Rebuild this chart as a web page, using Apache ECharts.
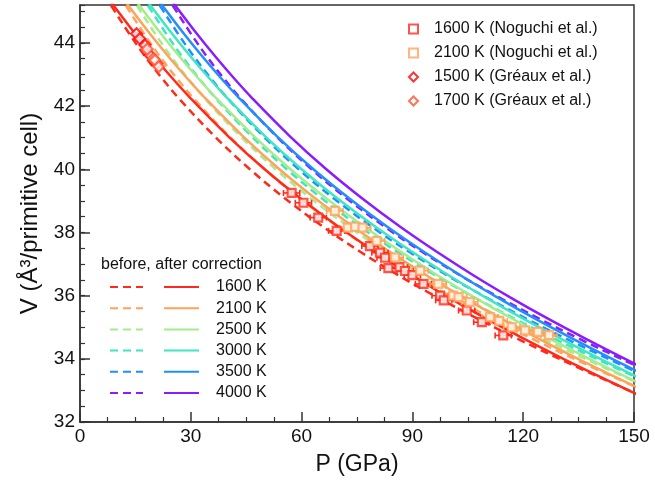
<!DOCTYPE html>
<html><head><meta charset="utf-8">
<script src="https://cdn.jsdelivr.net/npm/echarts@6/dist/echarts.min.js"></script>
<style>html,body{margin:0;padding:0;background:#fff}#c{width:655px;height:484px}</style>
</head><body><div id="c"></div>
<script>
// Shared volume grid (Å^3) for all EOS curves
const volGrid = [45.52, 45.2, 44.28, 43.56, 42.88, 42.24, 41.06, 40.0, 39.05, 38.18, 37.38, 36.63, 35.93, 35.27, 34.65, 33.76, 32.92, 32.65];
// Pressures (GPa) along each curve, "after correction" (solid)
const pAfter1600 = [7, 9, 15, 20, 25, 30, 40, 50, 60, 70, 80, 90, 100, 110, 120, 135, 150, 155];
const pAfter2100 = [11, 13, 19, 24, 29, 34, 44, 54, 64, 74, 84, 94, 104, 114, 124, 139, 154, 159];
const pAfter2500 = [14, 16, 22, 27, 32, 37, 47, 57, 67, 77, 87, 97, 107, 117, 127, 142, 157, 162];
const pAfter3000 = [17, 19, 25, 30, 35, 40, 50, 60, 70, 80, 90, 100, 110, 120, 130, 145, 160, 165];
const pAfter3500 = [20.2, 22.2, 28.2, 33.2, 38.2, 43.2, 53.2, 63.2, 73.2, 83.2, 93.2, 103.2, 113.2, 123.2, 133.2, 148.2, 163.2, 168.2];
const pAfter4000 = [23.7, 25.7, 31.7, 36.7, 41.7, 46.7, 56.7, 66.7, 76.7, 86.7, 96.7, 106.7, 116.7, 126.7, 136.7, 151.7, 166.7, 171.7];
// "before correction" (dashed)
const pBefore1600 = [6.4, 8.3, 13.4, 17.7, 22.2, 26.8, 36.3, 46.0, 55.8, 65.8, 76.0, 86.4, 97.0, 107.6, 118.2, 134.2, 150.2, 155.4];
const pBefore2100 = [10.4, 12.3, 17.4, 21.7, 26.2, 30.8, 40.3, 50.0, 59.8, 69.8, 80.0, 90.4, 101.0, 111.6, 122.2, 138.2, 154.2, 159.4];
const pBefore2500 = [13.4, 15.3, 20.4, 24.7, 29.2, 33.8, 43.3, 53.0, 62.8, 72.8, 83.0, 93.4, 104.0, 114.6, 125.2, 141.2, 157.2, 162.4];
const pBefore3000 = [16.4, 18.3, 23.4, 27.7, 32.2, 36.8, 46.3, 56.0, 65.8, 75.8, 86.0, 96.4, 107.0, 117.6, 128.2, 144.2, 160.2, 165.4];
const pBefore3500 = [19.6, 21.5, 26.6, 30.9, 35.4, 40.0, 49.5, 59.2, 69.0, 79.0, 89.2, 99.6, 110.2, 120.8, 131.4, 147.4, 163.4, 168.6];
const pBefore4000 = [23.1, 25.0, 30.1, 34.4, 38.9, 43.5, 53.0, 62.7, 72.5, 82.5, 92.7, 103.1, 113.7, 124.3, 134.9, 150.9, 166.9, 172.1];

const tempLabels = ['1600 K', '2100 K', '2500 K', '3000 K', '3500 K', '4000 K'];
const tempColors = ['#ff2a1a', '#ffa35a', '#a6ec8e', '#3fe6c2', '#1f8fff', '#8a1cff'];

// Experimental data
const nog1600P = [57.3, 60.5, 64.5, 69.5, 78.5, 81.2, 82.6, 83.5, 86.5, 88.0, 90.0, 93.0, 97.5, 98.5, 104.7, 108.8, 114.6];
const nog1600V = [39.25, 38.94, 38.47, 38.05, 37.57, 37.36, 37.2, 36.87, 36.9, 36.78, 36.65, 36.37, 36.0, 35.85, 35.53, 35.16, 34.74];
const nog2100P = [69.0, 72.5, 74.5, 76.5, 80.3, 85.3, 92.1, 97.0, 101.0, 102.5, 105.5, 111.0, 113.5, 116.9, 120.5, 124.0, 127.0];
const nog2100V = [38.68, 38.15, 38.18, 38.15, 37.73, 37.21, 36.79, 36.37, 36.0, 35.95, 35.8, 35.32, 35.2, 35.0, 34.9, 34.85, 34.75];
const gre1500P = [15.3, 16.2, 17.6, 19.0, 20.8];
const gre1500V = [44.29, 44.13, 43.93, 43.61, 43.35];
const gre1700P = [18.2, 19.9, 20.3, 21.3];
const gre1700V = [43.8, 43.5, 43.45, 43.25];
const pErr = 2.2;
const vErr = 0.08;

const xTicks = { min: 0, max: 150, interval: 30 };
const yTicks = { min: 32, max: 45.2, interval: 2 };

const FONT = 'Liberation Sans, Arial, Helvetica, sans-serif';
const zip = (ps, vs) => ps.map((p, i) => [p, vs[i]]);
const zipErr = (ps, vs) => ps.map((p, i) => [p, vs[i], pErr, vErr]);

const afterSets = [pAfter1600, pAfter2100, pAfter2500, pAfter3000, pAfter3500, pAfter4000];
const beforeSets = [pBefore1600, pBefore2100, pBefore2500, pBefore3000, pBefore3500, pBefore4000];

const series = [];
beforeSets.forEach((ps, i) => {
  series.push({
    name: tempLabels[i] + ' before', type: 'line', data: zip(ps, volGrid),
    showSymbol: false, symbol: 'none', smooth: 0.35, clip: true,
    lineStyle: { color: tempColors[i], width: 2.5, type: [8, 5] },
    itemStyle: { color: tempColors[i] }, z: 2, silent: true
  });
});
afterSets.forEach((ps, i) => {
  series.push({
    name: tempLabels[i], type: 'line', data: zip(ps, volGrid),
    showSymbol: false, symbol: 'none', smooth: 0.35, clip: true,
    lineStyle: { color: tempColors[i], width: 2.5, type: 'solid' },
    itemStyle: { color: tempColors[i] }, z: 3, silent: true
  });
});

function errBar(color) {
  return function (params, api) {
    const x = api.value(0), y = api.value(1), ex = api.value(2), ey = api.value(3);
    const l = api.coord([x - ex, y]), r = api.coord([x + ex, y]);
    const t = api.coord([x, y + ey]), b = api.coord([x, y - ey]);
    const c = 3;
    const st = { stroke: color, lineWidth: 1.6, fill: null };
    return { type: 'group', children: [
      { type: 'line', shape: { x1: l[0], y1: l[1], x2: r[0], y2: r[1] }, style: st },
      { type: 'line', shape: { x1: l[0], y1: l[1] - c, x2: l[0], y2: l[1] + c }, style: st },
      { type: 'line', shape: { x1: r[0], y1: r[1] - c, x2: r[0], y2: r[1] + c }, style: st },
      { type: 'line', shape: { x1: t[0], y1: t[1], x2: b[0], y2: b[1] }, style: st },
      { type: 'line', shape: { x1: t[0] - c, y1: t[1], x2: t[0] + c, y2: t[1] }, style: st },
      { type: 'line', shape: { x1: b[0] - c, y1: b[1], x2: b[0] + c, y2: b[1] }, style: st }
    ] };
  };
}
series.push({ type: 'custom', name: 'err1600', renderItem: errBar('#ff2a1a'), data: zipErr(nog1600P, nog1600V), z: 4, silent: true, clip: true });
series.push({ type: 'custom', name: 'err2100', renderItem: errBar('#ffa35a'), data: zipErr(nog2100P, nog2100V), z: 4, silent: true, clip: true });
series.push({ type: 'custom', name: 'errG1500', renderItem: errBar('#ff1a1a'), data: zipErr(gre1500P, gre1500V).map(d => [d[0], d[1], 0.6, 0.04]), z: 4, silent: true, clip: true });

const noguchiNames = ['1600 K (Noguchi et al.)', '2100 K (Noguchi et al.)'];
const greauxNames = ['1500 K (Gréaux et al.)', '1700 K (Gréaux et al.)'];
series.push({ name: noguchiNames[0], type: 'scatter', data: zip(nog1600P, nog1600V), symbol: 'rect', symbolSize: 8,
  itemStyle: { color: '#ffffff', borderColor: '#ff2a1a', borderWidth: 2.2 }, z: 5, silent: true });
series.push({ name: noguchiNames[1], type: 'scatter', data: zip(nog2100P, nog2100V), symbol: 'rect', symbolSize: 8,
  itemStyle: { color: '#ffffff', borderColor: '#ffa35a', borderWidth: 2.2 }, z: 5, silent: true });
series.push({ name: greauxNames[0], type: 'scatter', data: zip(gre1500P, gre1500V), symbol: 'diamond', symbolSize: 11,
  itemStyle: { color: '#ffffff', borderColor: '#ff0000', borderWidth: 2.2 }, z: 5, silent: true });
series.push({ name: greauxNames[1], type: 'scatter', data: zip(gre1700P, gre1700V), symbol: 'diamond', symbolSize: 11,
  itemStyle: { color: '#ffffff', borderColor: '#ff5030', borderWidth: 2.2 }, z: 6, silent: true });

const axisCol = '#333';
const chart = echarts.init(document.getElementById('c'), null, { renderer: 'canvas' });
chart.setOption({
  animation: false,
  textStyle: { fontFamily: FONT },
  grid: { left: 80, right: 21, top: 5, bottom: 62, show: true, borderColor: axisCol, borderWidth: 1.5, backgroundColor: 'transparent' },
  xAxis: {
    type: 'value', min: xTicks.min, max: xTicks.max, interval: xTicks.interval,
    axisLine: { show: true, lineStyle: { color: axisCol, width: 1.5 } },
    axisTick: { show: true, inside: true, length: 10, lineStyle: { color: axisCol, width: 1.5 } },
    minorTick: { show: true, splitNumber: 4, length: 5, lineStyle: { color: axisCol, width: 1.2 } },
    splitLine: { show: false },
    axisLabel: { fontSize: 19, color: '#111', margin: 5, fontFamily: FONT },
    name: 'P (GPa)', nameLocation: 'middle', nameGap: 31,
    nameTextStyle: { fontSize: 23, color: '#111', fontFamily: FONT }
  },
  yAxis: [{
    type: 'value', min: yTicks.min, max: yTicks.max, interval: yTicks.interval,
    axisLine: { show: true, lineStyle: { color: axisCol, width: 1.5 } },
    axisTick: { show: true, inside: true, length: 10, lineStyle: { color: axisCol, width: 1.5 } },
    splitLine: { show: false },
    axisLabel: { fontSize: 19, color: '#111', margin: 5, showMaxLabel: false, fontFamily: FONT },
    name: 'V (Å³/primitive cell)', nameLocation: 'middle', nameGap: 38,
    nameTextStyle: { fontSize: 24, color: '#111', fontFamily: FONT }
  }, {
    type: 'value', min: yTicks.min, max: yTicks.max, interval: 0.5, position: 'left',
    axisLine: { show: false }, axisLabel: { show: false }, splitLine: { show: false },
    axisTick: { show: true, inside: true, length: 5, lineStyle: { color: axisCol, width: 1.2 } }
  }],
  legend: [{
    data: noguchiNames.concat(greauxNames), orient: 'vertical', left: 408, top: 21, padding: 0,
    itemWidth: 9, itemHeight: 9, itemGap: 8, selectedMode: false,
    textStyle: { fontSize: 16, lineHeight: 16, color: '#111', fontFamily: FONT, padding: [0, 0, 0, 11] }
  }, {
    data: tempLabels.map(t => t + ' before'), orient: 'vertical', left: 109, top: 279, padding: 0,
    itemWidth: 33, itemHeight: 16, itemGap: 5.2, selectedMode: false, formatter: () => ' ',
    itemStyle: { opacity: 0 },
    textStyle: { fontSize: 16, lineHeight: 16, fontFamily: FONT }
  }, {
    data: tempLabels, orient: 'vertical', left: 163, top: 279, padding: 0,
    itemWidth: 35, itemHeight: 16, itemGap: 5.2, selectedMode: false,
    itemStyle: { opacity: 0 },
    textStyle: { fontSize: 16, lineHeight: 16, color: '#111', fontFamily: FONT, padding: [0, 0, 0, 12] }
  }],
  graphic: [{
    type: 'text', left: 101, top: 257,
    style: { text: 'before, after correction', fontSize: 16, fill: '#111', fontFamily: FONT }
  }],
  series: series
});
</script></body></html>
